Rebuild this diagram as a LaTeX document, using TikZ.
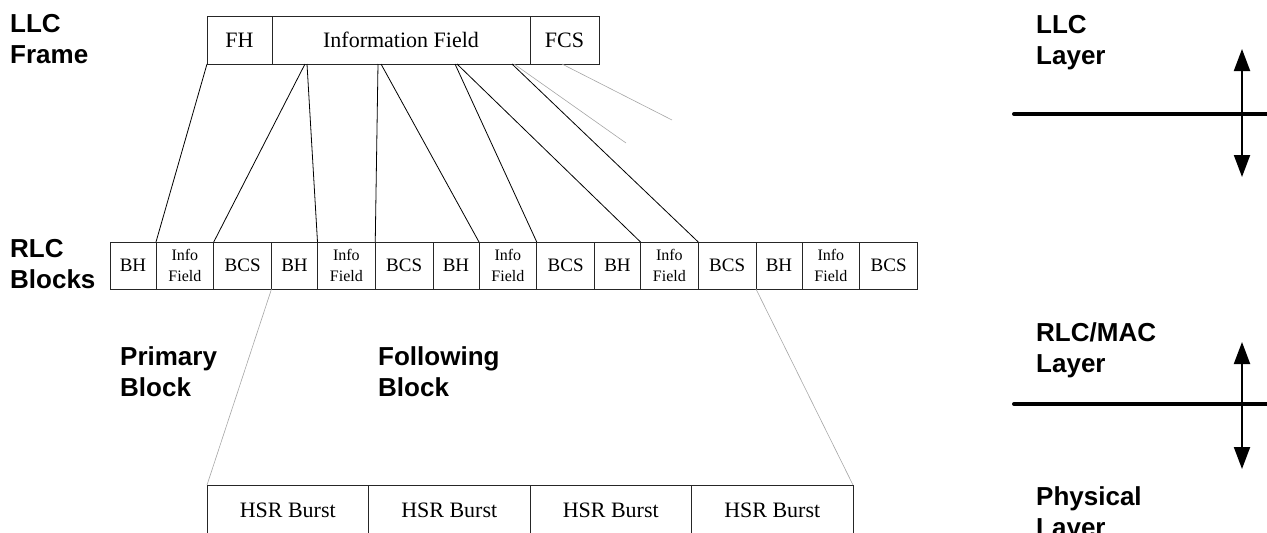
\documentclass[tikz,border=0pt]{standalone}
\usepackage{fontspec}
\setmainfont{Liberation Serif}
\newfontfamily\labelfont{Liberation Sans}
\usetikzlibrary{positioning, arrows.meta}
\tikzset{
    llcbox/.style = {
        rectangle,
        draw=black!85,
        line width=0.8pt,
        minimum height=48pt,
        inner sep=0pt,
        outer sep=0pt,
        font=\fontsize{22}{26}\selectfont
    },
    rlcbox/.style = {
        rectangle,
        draw=black!85,
        line width=0.8pt,
        minimum height=47pt,
        inner sep=0pt,
        outer sep=0pt,
        align=center,
        font=\fontsize{19}{22}\selectfont
    },
    infobox/.style = {
        rlcbox,
        minimum width=57.75pt,
        font=\fontsize{16}{21}\selectfont
    },
    burstbox/.style = {
        rectangle,
        draw=black!85,
        line width=0.8pt,
        minimum width=161.5pt,
        minimum height=50pt,
        inner sep=0pt,
        outer sep=0pt,
        font=\fontsize{22}{26}\selectfont
    },
    lbl/.style = {
        anchor=north west,
        inner sep=0pt,
        align=left,
        font=\labelfont\bfseries\fontsize{26}{31}\selectfont
    },
    link/.style = {
        line width=0.8pt
    },
    faint/.style = {
        gray!70,
        line width=0.6pt
    },
    layerline/.style = {
        line width=4pt,
        line cap=round
    },
    updown/.style = {
        line width=2pt,
        {Triangle[length=22pt,width=16pt]}-{Triangle[length=22pt,width=16pt]}
    }
}

\begin{document}
\begin{tikzpicture}[x=1pt, y=-1pt]

\clip (0,0) rectangle (1267,533);

% LLC frame
\node (fh) [llcbox, minimum width=65pt, anchor=north west] at (207,16) {FH};
\node (llcinfo) [llcbox, minimum width=258pt, right=0pt of fh] {Information Field};
\node (fcs) [llcbox, minimum width=69pt, right=0pt of llcinfo] {FCS};

% RLC blocks
\foreach \i in {1,...,5} {
    \node (bh\i) [rlcbox, minimum width=46pt, anchor=north west] at ({110+161.5*(\i-1)},242) {BH};
    \node (info\i) [infobox, right=0pt of bh\i] {Info\\Field};
    \node (bcs\i) [rlcbox, minimum width=57.75pt, right=0pt of info\i] {BCS};
}

% Bursts
\node (burst1) [burstbox, anchor=north west] at (207,485) {HSR Burst};
\node (burst2) [burstbox, right=0pt of burst1] {HSR Burst};
\node (burst3) [burstbox, right=0pt of burst2] {HSR Burst};
\node (burst4) [burstbox, right=0pt of burst3] {HSR Burst};

% Information field split into blocks
\draw [link] (fh.south west) -- (info1.north west);
\draw [link] ([xshift=33pt]llcinfo.south west) -- (info1.north east);
\draw [link] ([xshift=35pt]llcinfo.south west) -- (info2.north west);
\draw [link] ([xshift=106pt]llcinfo.south west) -- (info2.north east);
\draw [link] ([xshift=109pt]llcinfo.south west) -- (info3.north west);
\draw [link] ([xshift=183pt]llcinfo.south west) -- (info3.north east);
\draw [link] ([xshift=185pt]llcinfo.south west) -- (info4.north west);
\draw [link] ([xshift=240pt]llcinfo.south west) -- (info4.north east);

\coordinate (cut1) at (626,143);
\coordinate (cut2) at (672,120);
\draw [faint] ([xshift=242pt]llcinfo.south west) -- (cut1);
\draw [faint] ([xshift=32pt]fcs.south west) -- (cut2);

% Block onto bursts
\draw [faint] (bh2.south west) -- (burst1.north west);
\draw [faint] (bh5.south west) -- (burst4.north east);

% Labels
\node (llcframe) [lbl] at (10,14) {LLC\\Frame};
\node (rlcblocks) [lbl] at (10,239) {RLC\\Blocks};
\node (primary) [lbl] at (120,346) {Primary\\Block};
\node (following) [lbl] at (378,346) {Following\\Block};
\node (llclayer) [lbl] at (1036,15) {LLC\\Layer};
\node (maclayer) [lbl] at (1036,322) {RLC/MAC\\Layer};
\node (phylayer) [lbl] at (1036,486) {Physical\\Layer};

% Layer borders
\coordinate (llcl) at (1014,114);
\coordinate (llcr) at (1267,114);
\coordinate (macl) at (1014,404);
\coordinate (macr) at (1267,404);
\draw [layerline] (llcl) -- (llcr);
\draw [layerline] (macl) -- (macr);

\coordinate (up1) at (1242,49);
\coordinate (dn1) at (1242,177);
\coordinate (up2) at (1242,342);
\coordinate (dn2) at (1242,469);
\draw [updown] (up1) -- (dn1);
\draw [updown] (up2) -- (dn2);

\end{tikzpicture}
\end{document}
